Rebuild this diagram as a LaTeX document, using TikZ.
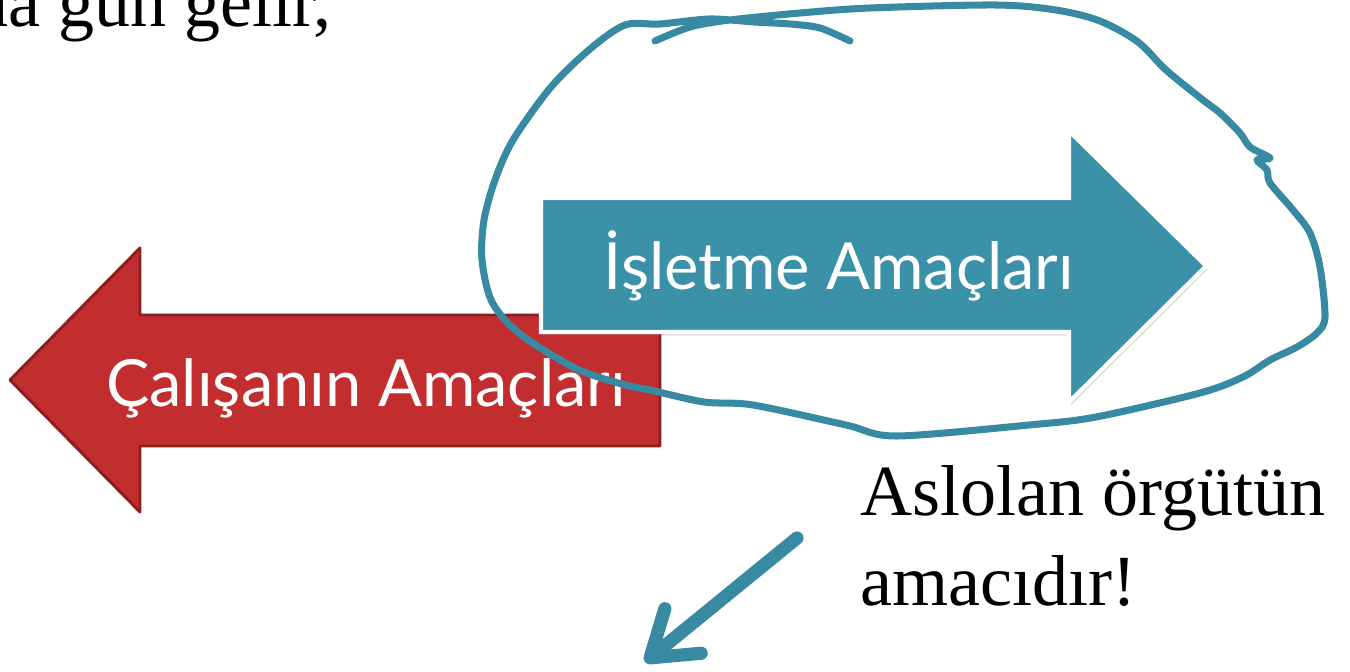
\documentclass[tikz,border=0pt]{standalone}
\usepackage{fontspec}
\setmainfont{Liberation Serif}
\newfontfamily\arrowfont{Lato}
\usetikzlibrary{arrows.meta,shadows}

\definecolor{tealblue}{RGB}{58,145,168}
\definecolor{loopteal}{RGB}{55,138,162}
\definecolor{arrowred}{RGB}{194,45,47}
\definecolor{darkred}{RGB}{140,30,30}

\tikzstyle{redshape} = [fill=arrowred, draw=darkred, line width=1.7pt, line join=round]
\tikzstyle{tealshape} = [fill=tealblue, draw=white, line width=2.3pt, line join=miter, drop shadow={shadow xshift=1pt, shadow yshift=-2pt, opacity=0.25}]
\tikzstyle{arrowtext} = [text=white, font=\arrowfont\fontsize{37}{40}\selectfont, inner sep=0pt, anchor=base]
\tikzstyle{bodytext} = [font=\fontsize{41}{51}\selectfont, inner sep=0pt, anchor=base west, align=left]
\tikzstyle{handloop} = [draw=loopteal, line width=4pt, line cap=round, line join=round]
\tikzstyle{arrow} = [draw=loopteal, line width=7.5pt, line cap=round, -{Straight Barb[round, length=0.85cm, width=1.15cm]}]

\begin{document}
\begin{tikzpicture}[x=0.02cm, y=-0.02cm]
    \useasboundingbox (0,0) rectangle (1350,672);
    % the two arrows
    \draw [redshape] (10,380) -- (140,248) -- (140,315) -- (660,315) -- (660,446) -- (140,446) -- (140,512) -- cycle;
    \draw [tealshape] (541,198) -- (1069,198) -- (1069,131) -- (1206,266) -- (1069,402) -- (1069,332) -- (541,332) -- cycle;
    \node (node1) [arrowtext] at (366,407) {Çalışanın Amaçları};
    \node (node2) [arrowtext] at (839,290) {İşletme Amaçları};
    % slide text
    \node (node3) [bodytext] at (-28,27) {na gün gelir,};
    \node (node4) [bodytext] at (860,605) {Aslolan örgütün\\amacıdır!};
    % hand drawn loop
    \draw [handloop] plot [smooth, tension=0.5] coordinates {
        (655,41) (690,27) (730,20) (800,13) (870,8) (996,5) (1056,10) (1100,21)
        (1138,42) (1166,70) (1203,100) (1220,113) (1240,133) (1250,147) (1270,158)
        (1257,160) (1267,170) (1270,183) (1293,210) (1310,233) (1320,267) (1325,317)
        (1317,333) (1297,347) (1270,360) (1243,377) (1200,393) (1096,417) (1029,425)
        (896,436) (846,425) (753,405) (704,402) (650,390) (629,386) (577,369) (520,334)
        (492,302) (482,260) (484,220) (495,180) (513,140) (551,87) (590,49) (625,25) (660,24)
        (710,19) (754,22) (790,24) (820,28) (850,41)};
    \coordinate (start) at (797,538);
    \coordinate (end) at (645,662);
    \draw [arrow] (start) -- (end);
\end{tikzpicture}
\end{document}
